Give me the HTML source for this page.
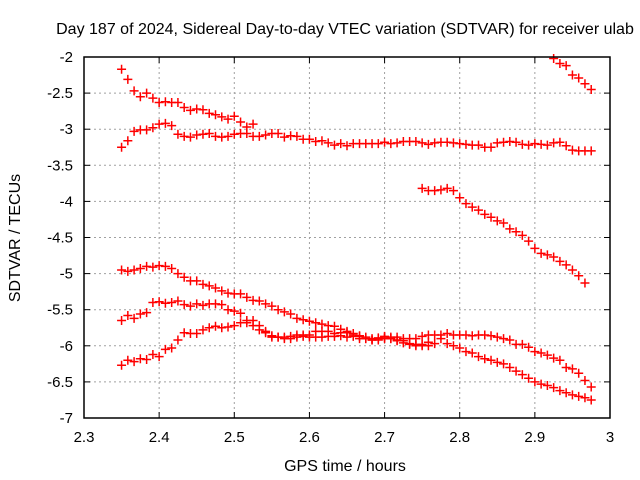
<!DOCTYPE html>
<html><head><meta charset="utf-8"><style>
html,body{margin:0;padding:0;background:#fff;}
svg{display:block;font-family:"Liberation Sans",sans-serif;}
</style></head><body>
<svg id="chart" width="640" height="480" viewBox="0 0 640 480">
<rect width="640" height="480" fill="#fff"/>
<text x="345" y="34" font-size="16" text-anchor="middle">Day 187 of 2024, Sidereal Day-to-day VTEC variation (SDTVAR) for receiver ulab</text>
<text transform="translate(20,238) rotate(-90)" font-size="16" text-anchor="middle">SDTVAR / TECUs</text>
<text x="345" y="471" font-size="16" text-anchor="middle">GPS time / hours</text>
<g id="grid"></g>
<g id="ticks"></g>
<g id="marks"></g>
<rect x="84" y="57" width="526" height="361" fill="none" stroke="#000" stroke-width="1.5"/>
</svg>
<script>
const xTicks=[2.3,2.4,2.5,2.6,2.7,2.8,2.9,3];
const xTickLabels=["2.3","2.4","2.5","2.6","2.7","2.8","2.9","3"];
const yTicks=[-2,-2.5,-3,-3.5,-4,-4.5,-5,-5.5,-6,-6.5,-7];
const yTickLabels=["-2","-2.5","-3","-3.5","-4","-4.5","-5","-5.5","-6","-6.5","-7"];
const step=1/120;
const starts=[2.35,2.35,2.75,2.925,2.35,2.35,2.35];
const seriesA=[-2.17,-2.31,-2.47,-2.55,-2.5,-2.57,-2.63,-2.62,-2.63,-2.63,-2.7,-2.74,-2.72,-2.73,-2.78,-2.8,-2.83,-2.86,-2.82,-2.9,-2.97,-2.93];
const seriesB=[-3.25,-3.16,-3.03,-3.01,-3.01,-2.98,-2.93,-2.92,-2.95,-3.07,-3.1,-3.11,-3.08,-3.07,-3.06,-3.1,-3.11,-3.1,-3.07,-3.06,-3.06,-3.1,-3.1,-3.08,-3.06,-3.06,-3.11,-3.09,-3.1,-3.14,-3.14,-3.17,-3.16,-3.19,-3.22,-3.2,-3.23,-3.2,-3.2,-3.2,-3.2,-3.2,-3.18,-3.2,-3.19,-3.17,-3.17,-3.17,-3.19,-3.21,-3.19,-3.18,-3.18,-3.19,-3.2,-3.21,-3.22,-3.22,-3.25,-3.25,-3.19,-3.18,-3.17,-3.18,-3.21,-3.22,-3.2,-3.21,-3.22,-3.19,-3.18,-3.23,-3.29,-3.3,-3.3,-3.3];
const seriesC=[-3.82,-3.85,-3.85,-3.84,-3.82,-3.85,-3.95,-4.03,-4.08,-4.12,-4.18,-4.22,-4.27,-4.3,-4.38,-4.42,-4.47,-4.55,-4.65,-4.72,-4.74,-4.77,-4.83,-4.88,-4.95,-5.03,-5.13];
const seriesD=[-2.02,-2.09,-2.12,-2.25,-2.29,-2.37,-2.45];
const seriesE=[-4.95,-4.97,-4.95,-4.93,-4.9,-4.91,-4.89,-4.9,-4.93,-5.0,-5.05,-5.1,-5.1,-5.15,-5.17,-5.2,-5.24,-5.27,-5.28,-5.28,-5.33,-5.37,-5.38,-5.42,-5.45,-5.5,-5.53,-5.56,-5.62,-5.64,-5.66,-5.68,-5.7,-5.72,-5.73,-5.77,-5.8,-5.83,-5.86,-5.88,-5.9,-5.89,-5.88,-5.9,-5.92,-5.93,-5.9,-5.9,-5.87,-5.85,-5.85,-5.85,-5.83,-5.85,-5.85,-5.85,-5.86,-5.85,-5.85,-5.86,-5.88,-5.9,-5.92,-5.98,-5.98,-6.02,-6.08,-6.1,-6.13,-6.17,-6.2,-6.3,-6.32,-6.38,-6.48,-6.57];
const seriesF=[-5.65,-5.58,-5.62,-5.56,-5.54,-5.4,-5.39,-5.41,-5.4,-5.38,-5.43,-5.45,-5.42,-5.44,-5.42,-5.42,-5.43,-5.5,-5.52,-5.55,-5.65,-5.72,-5.78,-5.82,-5.88,-5.88,-5.88,-5.87,-5.85,-5.87,-5.88,-5.88,-5.88,-5.87,-5.87,-5.86,-5.88,-5.87,-5.9,-5.9,-5.92,-5.92,-5.9,-5.9,-5.88,-5.9,-5.97,-5.98,-6.0,-6.0,-5.97,-5.9,-5.97,-6.0,-6.03,-6.08,-6.1,-6.15,-6.18,-6.2,-6.23,-6.25,-6.3,-6.35,-6.4,-6.45,-6.5,-6.53,-6.55,-6.58,-6.62,-6.65,-6.68,-6.7,-6.72,-6.75];
const seriesG=[-6.27,-6.2,-6.22,-6.18,-6.19,-6.12,-6.15,-6.05,-6.03,-5.92,-5.82,-5.83,-5.83,-5.78,-5.75,-5.73,-5.75,-5.74,-5.72,-5.68,-5.68,-5.65,-5.72,-5.8,-5.86,-5.88,-5.9,-5.9,-5.88,-5.85,-5.85,-5.8,-5.8,-5.8,-5.83,-5.82,-5.82,-5.85,-5.87,-5.9,-5.92,-5.9,-5.87,-5.88,-5.93,-5.96,-5.98,-6.0,-5.98,-5.95];
const allSeries=[seriesA,seriesB,seriesC,seriesD,seriesE,seriesF,seriesG];

const X0=84,X1=610,Y0=57,Y1=418;
const xs=v=>X0+(v-2.3)/(3-2.3)*(X1-X0);
const ys=v=>Y0+(-2-v)/5*(Y1-Y0);
const NS="http://www.w3.org/2000/svg";
function mk(tag,attrs,parent){const e=document.createElementNS(NS,tag);for(const k in attrs)e.setAttribute(k,attrs[k]);parent.appendChild(e);return e;}
const grid=document.getElementById('grid'),ticks=document.getElementById('ticks'),marks=document.getElementById('marks');
xTicks.forEach((t,i)=>{
  const x=xs(t);
  if(i>0&&i<xTicks.length-1){const g=mk('line',{x1:x,x2:x,y1:Y0,y2:Y1,stroke:'#a0a0a0','stroke-dasharray':'2,3'},grid);
  
  }
  mk('line',{x1:x,x2:x,y1:Y1,y2:Y1-6,stroke:'#000'},ticks);
  mk('line',{x1:x,x2:x,y1:Y0,y2:Y0+6,stroke:'#000'},ticks);
  const l=mk('text',{x:x,y:442,'font-size':'15','text-anchor':'middle'},ticks);l.textContent=xTickLabels[i];
  
  
});
yTicks.forEach((t,i)=>{
  const y=ys(t);
  if(i>0&&i<yTicks.length-1){const g=mk('line',{x1:X0,x2:X1,y1:y,y2:y,stroke:'#a0a0a0','stroke-dasharray':'2,3'},grid);
  
  }
  mk('line',{x1:X0,x2:X0+6,y1:y,y2:y,stroke:'#000'},ticks);
  mk('line',{x1:X1,x2:X1-6,y1:y,y2:y,stroke:'#000'},ticks);
  const l=mk('text',{x:73,y:y+5,'font-size':'15','text-anchor':'end'},ticks);l.textContent=yTickLabels[i];
  
  
});
allSeries.forEach((s,si)=>{
  s.forEach((v,i)=>{
    const x=xs(starts[si]+i*step),y=ys(v);
    const p=mk('path',{d:`M${x-4.5},${y}H${x+4.5}M${x},${y-4.5}V${y+4.5}`,stroke:'#f00','stroke-width':'1.5',fill:'none'},marks);
    
    
  });
});
</script>
</body></html>
